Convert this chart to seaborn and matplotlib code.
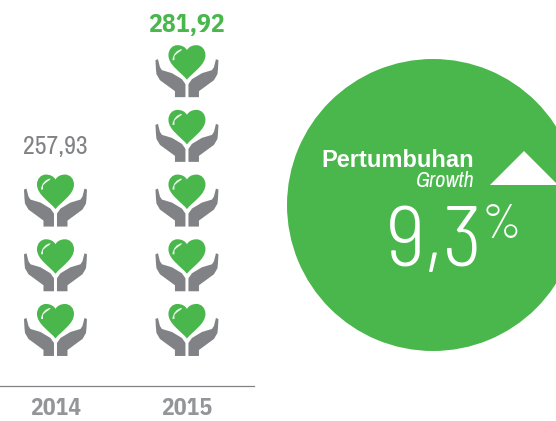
import pandas as pd
import numpy as np
import matplotlib
matplotlib.use('Agg')
import matplotlib.pyplot as plt
import seaborn as sns
from matplotlib.path import Path
from matplotlib.patches import Polygon

# data
years = ['2014', '2015']
value_labels = ['257,93', '281,92']
icon_counts = [3, 5]
growth_title = 'Pertumbuhan'
growth_sub = 'Growth'
growth_value = '9,3'
growth_unit = '%'

GREEN = '#4AB74D'
GRAY = '#808285'
TICK_GRAY = '#939598'
W, H = 556, 421
NARROW = ['Archivo Narrow', 'Liberation Sans Narrow', 'Liberation Sans']
NARROW_BOLD = ['IBM Plex Sans Condensed', 'Liberation Sans Narrow', 'Liberation Sans']
THIN = ['Barlow Semi Condensed', 'Roboto', 'Liberation Sans']

sns.set_theme(style='white')
plt.rcParams['font.family'] = ['Liberation Sans', 'DejaVu Sans']

rows = []
for y, n in zip(years, icon_counts):
    for i in range(1, n + 1):
        rows.append({'year': y, 'icon': i})
icons = pd.DataFrame(rows)


def poly(pts):
    pts = list(pts)
    return Path(pts + [pts[0]], [Path.MOVETO] + [Path.LINETO] * (len(pts) - 1) + [Path.CLOSEPOLY])


def size_for(path):
    # marker paths are in pixels around the icon centre
    return (1.44 * np.max(np.abs(path.vertices))) ** 2


heart = Path(
    [(0, -8.5), (-6, -1), (-18.5, 6), (-18.5, 16), (-18.5, 22), (-14.5, 26), (-9.5, 26),
     (-5, 26), (-1.5, 24), (0, 21), (1.5, 24), (5, 26), (9.5, 26), (14.5, 26), (18.5, 22),
     (18.5, 16), (18.5, 6), (6, -1), (0, -8.5), (0, -8.5)],
    [Path.MOVETO] + [Path.CURVE4] * 18 + [Path.CLOSEPOLY])
shine = Path(
    [(-14.5, 11), (-14, 17), (-10, 21.5), (-5, 22), (-5, 20), (-9.5, 19), (-12.5, 15), (-12.5, 11), (-14.5, 11)],
    [Path.MOVETO] + [Path.CURVE4] * 6 + [Path.LINETO, Path.CLOSEPOLY])
hand_pts = [(-31.5, 11), (-31, 2), (-30.5, -3), (-27, -9), (-12, -20), (-12, -26), (-1.5, -26), (-1.5, -13),
            (-5, -8), (-15, -2), (-25, 1), (-27, 4), (-29, 12)]
left_hand = poly(hand_pts)
right_hand = poly([(-x, y) for x, y in hand_pts])

fig = plt.figure(figsize=(W / 100, H / 100), dpi=100)

# growth disc
ax2 = fig.add_axes([287 / W, (H - 351) / H, 292 / W, 292 / H])
ax2.pie([100], colors=[GREEN], radius=1, wedgeprops={'linewidth': 0})
ax2.set_xlim(-1, 1)
ax2.set_ylim(-1, 1)

# icon columns
ax = fig.add_axes([0, (H - 386) / H, 254 / W, 386 / H])
for path, col in [(left_hand, GRAY), (right_hand, GRAY), (heart, GREEN), (shine, '#EAF6EA')]:
    sns.scatterplot(data=icons, x='year', y='icon', marker=path, s=size_for(path), color=col,
                    linewidth=0, edgecolor='none', ax=ax, legend=False, clip_on=False)
ax.set_xlim(-0.422, 1.51)
ax.set_ylim(0.134, 6.10)
ax.set_xlabel('')
ax.set_ylabel('')
ax.set_yticks([])
ax.patch.set_alpha(0)
sns.despine(ax=ax, left=True)
ax.spines['bottom'].set_color(GRAY)
ax.spines['bottom'].set_linewidth(0.9)
ax.tick_params(axis='x', length=0, pad=8, labelcolor=TICK_GRAY)
for t in ax.get_xticklabels():
    t.set_fontfamily(NARROW_BOLD)
    t.set_fontweight('bold')
    t.set_fontsize(17)

ax.text(0, icon_counts[0] + 0.83, value_labels[0], ha='center', va='center', color=GRAY, fontsize=18.5,
        family=NARROW)
ax.text(1, icon_counts[1] + 0.71, value_labels[1], ha='center', va='center', color=GREEN, fontsize=18.5,
        fontweight='bold', family=NARROW_BOLD)

# overlay for disc text, in pixels
ov = fig.add_axes([0, 0, 1, 1])
ov.set_xlim(0, W)
ov.set_ylim(H, 0)
ov.axis('off')
ov.add_patch(Polygon([(490, 185), (524, 151), (558, 185)], closed=True, fc='white', ec='none'))
ov.text(474, 167, growth_title, ha='right', va='baseline', color='white', fontsize=17, fontweight='bold')
ov.text(475, 187, growth_sub, ha='right', va='baseline', color='white', fontsize=16, style='italic',
        family=NARROW)
ov.text(483, 266, growth_value, ha='right', va='baseline', color='white', fontsize=62, fontweight=300,
        family=THIN)
ov.text(482, 238, growth_unit, ha='left', va='baseline', color='white', fontsize=35, fontweight=300,
        family=THIN)

fig.savefig('out.png', dpi=100)
